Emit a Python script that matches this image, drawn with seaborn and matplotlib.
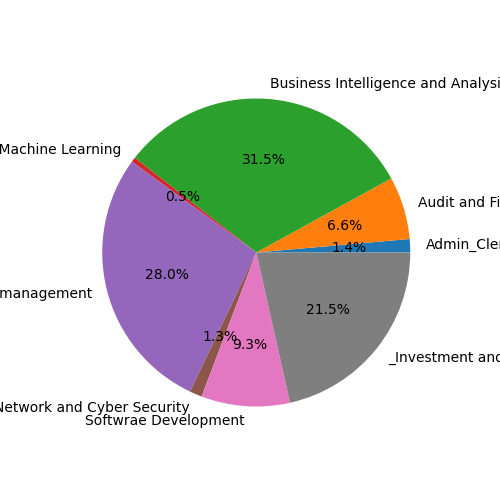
import seaborn as sns
from matplotlib import pyplot as plt

# department shares (percent)
departments = [
    "Admin_Clerical",
    "Audit and Finance",
    "Business Intelligence and Analysis",
    "Data Science and Machine Learning",
    "Project management",
    "Network and Cyber Security",
    "Softwrae Development",
    "_Investment and Banking",
]
shares = [1.4, 6.6, 31.5, 0.5, 28.0, 1.3, 9.3, 21.5]


def main():
    sns.set_theme(style="white", rc={"patch.edgecolor": "none", "patch.force_edgecolor": False})
    plt.rcParams["font.family"] = ["DejaVu Sans"]
    colors = sns.color_palette("tab10", len(shares))

    fig, ax = plt.subplots(figsize=(5, 5), dpi=100)
    fig.subplots_adjust(left=0.125, right=0.9, bottom=0.11, top=0.88)
    ax.pie(shares, labels=departments, colors=colors, autopct="%1.1f%%",
           wedgeprops={"linewidth": 0},
           textprops={"fontsize": 10, "color": "black"})
    fig.savefig("out.png", dpi=100)


if __name__ == "__main__":
    main()
